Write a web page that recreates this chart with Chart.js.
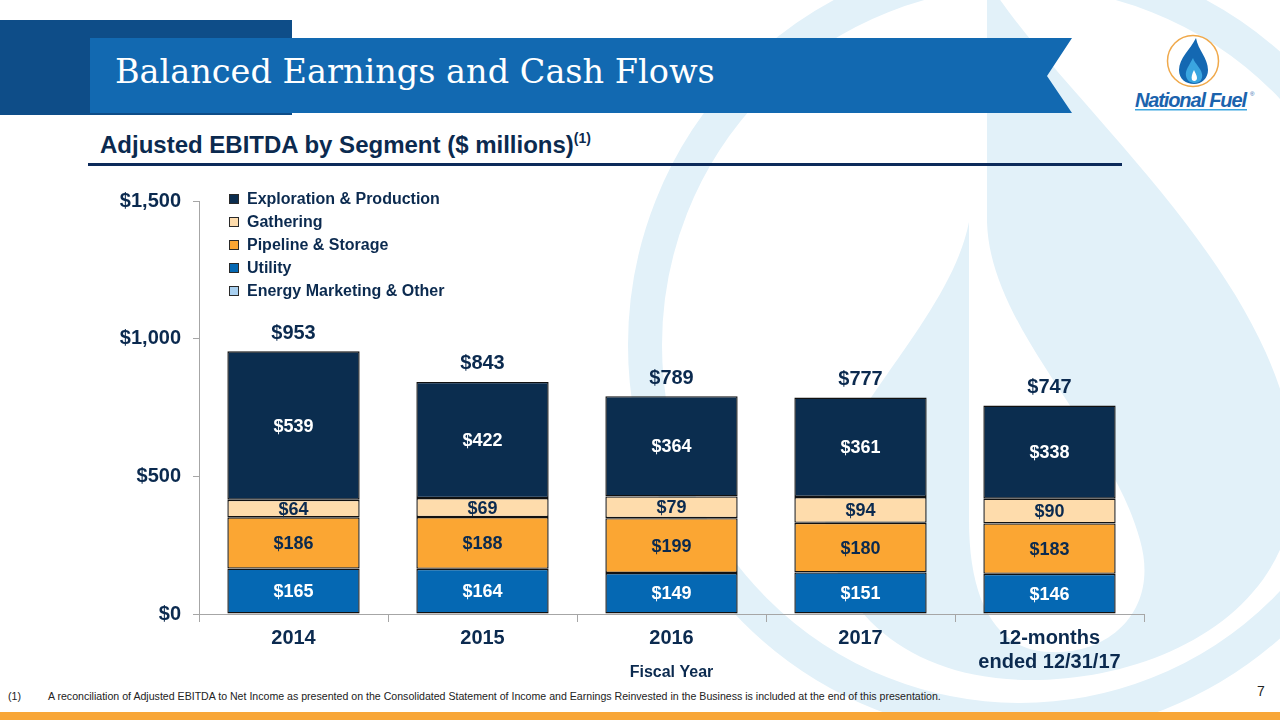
<!DOCTYPE html>
<html>
<head>
<meta charset="utf-8">
<script src="https://cdn.jsdelivr.net/npm/chart.js@4.4.1/dist/chart.umd.min.js"></script>
<style>
  html, body { margin: 0; padding: 0; }
  body { width: 1280px; height: 720px; position: relative; overflow: hidden; background: #fff;
         font-family: "Liberation Sans", Arial, sans-serif; color: #0b2a4f; }
  .abs { position: absolute; }
  #bg { left: 0; top: 0; }
  .corner { left: 0; top: 20px; width: 292px; height: 95px; background: #0e4d88; }
  .title { left: 115px; top: 52px; font-family: "DejaVu Serif", serif; font-size: 33.5px; color: #fff; white-space: nowrap; }
  .subtitle { left: 100px; top: 131px; font-size: 24px; font-weight: bold; white-space: nowrap; }
  .subtitle sup { font-size: 14px; position: relative; top: -1px; }
  .rule { left: 88px; top: 163px; width: 1034px; height: 3px; background: #0c2a5a; }
  #chart { left: 0; top: 170px; }
  #legend { left: 229px; top: 187px; }
  .item { height: 23px; display: flex; align-items: center; font-size: 16px; font-weight: bold; white-space: nowrap; }
  .item span.box { width: 8px; height: 8px; border: 1px solid #2a2a2a; margin-right: 8px; }
  .foot { left: 8px; top: 690px; font-size: 10.6px; color: #222; white-space: nowrap; }
  .foot span { display: inline-block; width: 40px; }
  .page { left: 1257px; top: 683px; font-size: 14px; color: #222; }
  .orange { left: 0; top: 712px; width: 1280px; height: 8px; background: #f8a637; }
</style>
</head>
<body>
<svg id="bg" class="abs" width="1280" height="720">
  <circle cx="1020" cy="345" r="375" fill="none" stroke="#e2f1f9" stroke-width="34"/>
  <path d="M 987 -20 C 1060 100, 1290 280, 1295 470 C 1300 610, 1160 680, 1030 680 C 900 680, 820 600, 825 500 C 830 420, 950 320, 969 222 L 987 222 Z" fill="#e2f1f9"/>
  <path d="M 969 222 L 987 222 C 990 330, 1110 430, 1140 540 C 1160 610, 1110 655, 1050 652 C 995 650, 969 600, 969 520 Z" fill="#ffffff"/>
</svg>

<div class="abs corner"></div>
<svg class="abs" style="left:0;top:0" width="1280" height="130">
  <polygon points="90,38 1072,38 1047,76 1072,113 90,113" fill="#1269b1"/>
  <!-- logo -->
  <circle cx="1193" cy="61" r="25.5" fill="#fff" stroke="#f0a94b" stroke-width="1.5"/>
  <path d="M 1196 38 C 1190 50, 1179 58, 1179 70 C 1179 79, 1186 84, 1194 84 C 1202 84, 1208 78, 1208 70 C 1208 58, 1198 50, 1196 38 Z" fill="#1468b2"/>
  <path d="M 1193 58 C 1189 66, 1185 70, 1186 76 C 1187 81, 1191 83, 1195 83 C 1200 83, 1203 79, 1202 74 C 1201 68, 1195 64, 1193 58 Z" fill="#3aa5e0"/>
  <path d="M 1194 70 C 1192 74, 1191 77, 1192 80 C 1194 82, 1197 81, 1197 78 C 1197 75, 1195 73, 1194 70 Z" fill="#fff"/>
  <text x="1135" y="107" font-family="Liberation Sans, Arial, sans-serif" font-size="20" font-weight="bold" font-style="italic" fill="#1b63ad" textLength="112">National Fuel</text>
  <text x="1250" y="96" font-family="Liberation Sans, Arial, sans-serif" font-size="6" fill="#1b63ad">®</text>
  <rect x="1135" y="109" width="112" height="1.5" fill="#3aa5e0"/>
</svg>
<div class="abs title">Balanced Earnings and Cash Flows</div>
<div class="abs subtitle">Adjusted EBITDA by Segment ($ millions)<sup>(1)</sup></div>
<div class="abs rule"></div>

<canvas id="chart" class="abs" width="1160" height="520" style="width:1160px;height:520px"></canvas>
<div id="legend" class="abs"></div>

<div class="abs foot"><span>(1)</span>A reconciliation of Adjusted EBITDA to Net Income as presented on the Consolidated Statement of Income and Earnings Reinvested in the Business is included at the end of this presentation.</div>
<div class="abs page">7</div>
<div class="abs orange"></div>

<script>
// Data (values in $ millions)
const categories = ["2014", "2015", "2016", "2017", ["12-months", "ended 12/31/17"]];
const utility = [165, 164, 149, 151, 146];
const pipeline = [186, 188, 199, 180, 183];
const gathering = [64, 69, 79, 94, 90];
const exploration = [539, 422, 364, 361, 338];
const marketing = [-1, 0, -2, -9, -10];
const totals = [953, 843, 789, 777, 747];
const yTicks = [0, 500, 1000, 1500];

const navy = "#0b2a4f";
const font = "'Liberation Sans', Arial, sans-serif";

// Legend order top to bottom
const legendItems = [
  { label: "Exploration & Production", color: "#0b2d4f" },
  { label: "Gathering", color: "#fedcac" },
  { label: "Pipeline & Storage", color: "#fba633" },
  { label: "Utility", color: "#0568b3" },
  { label: "Energy Marketing & Other", color: "#a9d0f0" }
];
const legend = document.getElementById("legend");
legendItems.forEach(it => {
  const d = document.createElement("div");
  d.className = "item";
  d.innerHTML = '<span class="box" style="background:' + it.color + '"></span>' + it.label;
  legend.appendChild(d);
});

function seg(label, data, color, textColor) {
  return {
    label: label, data: data, backgroundColor: color,
    borderColor: "#111111", borderWidth: 1.4, borderSkipped: false,
    textColor: textColor
  };
}

// Draw segment values and totals
const barLabels = {
  id: "barLabels",
  afterDatasetsDraw(chart) {
    const ctx = chart.ctx;
    ctx.save();
    ctx.textAlign = "center";
    ctx.textBaseline = "middle";
    ctx.font = "bold 18px " + font;
    chart.data.datasets.forEach((ds, i) => {
      if (!ds.textColor) return;
      chart.getDatasetMeta(i).data.forEach((bar, j) => {
        ctx.fillStyle = ds.textColor;
        ctx.fillText("$" + ds.data[j], bar.x, (bar.y + bar.base) / 2 + 1);
      });
    });
    const topMeta = chart.getDatasetMeta(4);
    ctx.font = "bold 20px " + font;
    ctx.fillStyle = navy;
    topMeta.data.forEach((bar, j) => {
      ctx.fillText("$" + totals[j], bar.x, bar.y - 18);
    });
    ctx.restore();
  }
};

new Chart(document.getElementById("chart"), {
  type: "bar",
  data: {
    labels: categories,
    datasets: [
      seg("Energy Marketing & Other", marketing, "#a9d0f0", null),
      seg("Utility", utility, "#0568b3", "#ffffff"),
      seg("Pipeline & Storage", pipeline, "#fba633", navy),
      seg("Gathering", gathering, "#fedcac", navy),
      seg("Exploration & Production", exploration, "#0b2d4f", "#ffffff")
    ]
  },
  options: {
    responsive: false,
    animation: false,
    categoryPercentage: 0.7,
    barPercentage: 1,
    layout: { padding: { top: 31, right: 16, left: 0, bottom: 0 } },
    plugins: { legend: { display: false }, tooltip: { enabled: false } },
    scales: {
      x: {
        stacked: true,
        grid: { offset: true, drawOnChartArea: false, tickLength: 8, color: "#a6a6a6" },
        border: { color: "#a6a6a6" },
        ticks: { color: navy, font: { family: font, size: 20, weight: "bold" }, padding: 4, maxRotation: 0 },
        title: { display: true, text: "Fiscal Year", color: navy, font: { family: font, size: 16, weight: "bold" }, padding: { top: 4, bottom: 8 } },
        afterFit(scale) { scale.height = 76; }
      },
      y: {
        stacked: true,
        min: 0,
        max: 1500,
        afterBuildTicks(scale) { scale.ticks = yTicks.map(v => ({ value: v })); },
        grid: { drawOnChartArea: false, tickLength: 6, color: "#a6a6a6" },
        border: { color: "#a6a6a6" },
        ticks: {
          color: navy, padding: 12,
          font: { family: font, size: 20, weight: "bold" },
          callback: v => "$" + v.toLocaleString("en-US")
        },
        afterFit(scale) { scale.width = 199; }
      }
    }
  },
  plugins: [barLabels]
});
</script>
</body>
</html>
